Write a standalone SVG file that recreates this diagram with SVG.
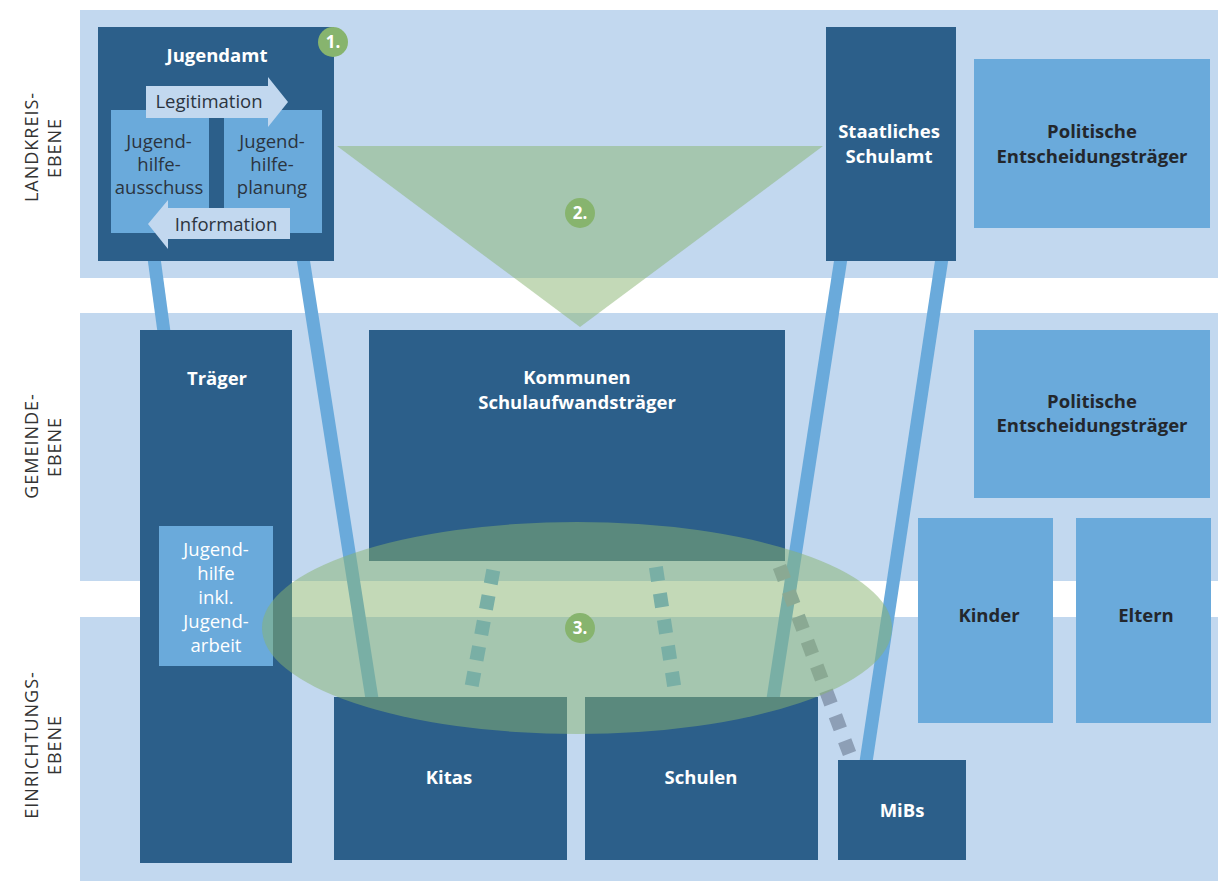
<svg xmlns="http://www.w3.org/2000/svg" width="1218" height="881" viewBox="0 0 1218 881">
<style>
.band{fill:#c2d8ef}
.dark{fill:#2c5f8a}
.mid{fill:#6aaadb}
.tw{font-family:"Open Sans","Liberation Sans",sans-serif;font-size:18.5px;font-weight:bold;fill:#ffffff;text-anchor:middle}
.td{font-family:"Open Sans","Liberation Sans",sans-serif;font-size:18.5px;font-weight:bold;fill:#23272d;text-anchor:middle}
.tr{font-family:"Open Sans","Liberation Sans",sans-serif;font-size:18.5px;fill:#2b3440;text-anchor:middle}
.trw{font-family:"Open Sans","Liberation Sans",sans-serif;font-size:18.5px;fill:#ffffff;text-anchor:middle}
.side{font-family:"Open Sans","Liberation Sans",sans-serif;font-size:18px;fill:#333333;text-anchor:middle;letter-spacing:1px}
.conn{stroke:#6aaadb;stroke-width:13;fill:none}
.dots{stroke:#6aaadb;stroke-width:14;fill:none}
.dotsg{stroke:#8d9fb6;stroke-width:14;fill:none}
.badge{fill:#87b46e}
.bt{font-family:"Open Sans","Liberation Sans",sans-serif;font-size:17px;font-weight:bold;fill:#ffffff;text-anchor:middle}
</style>

<g id="bands">
<rect class="band" x="80" y="10" width="1138" height="268"/>
<rect class="band" x="80" y="313" width="1138" height="268"/>
<rect class="band" x="80" y="617" width="1138" height="264"/>
</g>

<g id="level-labels">
<text class="side" transform="translate(38,147) rotate(-90)">LANDKREIS-</text>
<text class="side" transform="translate(61,148) rotate(-90)">EBENE</text>
<text class="side" transform="translate(38,446) rotate(-90)">GEMEINDE-</text>
<text class="side" transform="translate(61,447) rotate(-90)">EBENE</text>
<text class="side" transform="translate(38,745) rotate(-90)">EINRICHTUNGS-</text>
<text class="side" transform="translate(61,745) rotate(-90)">EBENE</text>
</g>

<g id="triangle">
<polygon points="337,146 823,146 580,327" fill="#87b46f" fill-opacity="0.5"/>
</g>

<g id="connectors">
<line class="conn" x1="154" y1="258" x2="164" y2="332"/>
<line class="conn" x1="303" y1="258" x2="372" y2="699"/>
<line class="conn" x1="841" y1="258" x2="773" y2="699"/>
<line class="conn" x1="942" y1="258" x2="866" y2="762"/>
</g>

<g id="jugendamt">
<rect class="dark" x="98" y="27" width="236" height="234"/>
<text class="tw" x="217" y="62">Jugendamt</text>
<rect class="mid" x="111" y="110" width="98" height="123"/>
<rect class="mid" x="224" y="110" width="98" height="123"/>
<text class="tr" x="159" y="148">Jugend-</text>
<text class="tr" x="159" y="171">hilfe-</text>
<text class="tr" x="159" y="194">ausschuss</text>
<text class="tr" x="272" y="148">Jugend-</text>
<text class="tr" x="272" y="171">hilfe-</text>
<text class="tr" x="272" y="194">planung</text>
<polygon points="146,86 268,86 268,77 288,102 268,127 268,118 146,118" fill="#c2d8ef"/>
<text class="tr" x="209" y="108">Legitimation</text>
<polygon points="290,208 168,208 168,200 148,224 168,249 168,239 290,239" fill="#c2d8ef"/>
<text class="tr" x="226" y="231">Information</text>
</g>

<g id="schulamt">
<rect class="dark" x="826" y="27" width="130" height="234"/>
<text class="tw" x="889" y="138">Staatliches</text>
<text class="tw" x="889" y="163">Schulamt</text>
</g>

<g id="politik-landkreis">
<rect class="mid" x="974" y="59" width="236" height="169"/>
<text class="td" x="1092" y="138">Politische</text>
<text class="td" x="1092" y="163">Entscheidungsträger</text>
</g>

<g id="traeger">
<rect class="dark" x="140" y="330" width="152" height="533"/>
<text class="tw" x="217" y="385">Träger</text>
<rect class="mid" x="159" y="526" width="114" height="140"/>
<text class="trw" x="216" y="556">Jugend-</text>
<text class="trw" x="216" y="580">hilfe</text>
<text class="trw" x="216" y="604">inkl.</text>
<text class="trw" x="216" y="628">Jugend-</text>
<text class="trw" x="216" y="652">arbeit</text>
</g>

<g id="kommunen">
<rect class="dark" x="369" y="330" width="416" height="231"/>
<text class="tw" x="577" y="384">Kommunen</text>
<text class="tw" x="577" y="409">Schulaufwandsträger</text>
</g>

<g id="politik-gemeinde">
<rect class="mid" x="974" y="330" width="236" height="168"/>
<text class="td" x="1092" y="408">Politische</text>
<text class="td" x="1092" y="432">Entscheidungsträger</text>
</g>

<g id="kinder">
<rect class="mid" x="918" y="518" width="135" height="205"/>
<text class="td" x="989" y="622">Kinder</text>
</g>

<g id="eltern">
<rect class="mid" x="1076" y="518" width="135" height="205"/>
<text class="td" x="1146" y="622">Eltern</text>
</g>

<g id="kitas">
<rect class="dark" x="334" y="697" width="233" height="163"/>
<text class="tw" x="449" y="784">Kitas</text>
</g>

<g id="schulen">
<rect class="dark" x="585" y="697" width="233" height="163"/>
<text class="tw" x="701" y="784">Schulen</text>
</g>

<g id="mibs">
<rect class="dark" x="838" y="760" width="128" height="100"/>
<text class="tw" x="902" y="817">MiBs</text>
</g>

<g id="dotted-connectors">
<line class="dots" x1="493.3" y1="570.1" x2="471.7" y2="685.9" stroke-dasharray="14 11.9"/>
<line class="dots" x1="655.9" y1="567.1" x2="674.1" y2="685.9" stroke-dasharray="14 12.55"/>
<line class="dotsg" x1="779.5" y1="566.5" x2="849.5" y2="753.5" stroke-dasharray="14 12.57"/>
</g>

<g id="ellipse">
<ellipse cx="577" cy="628" rx="315" ry="106" fill="#87b46f" fill-opacity="0.5"/>
</g>

<g id="badges">
<circle class="badge" cx="333" cy="42" r="15"/>
<text class="bt" x="333" y="48">1.</text>
<circle class="badge" cx="580" cy="213" r="15"/>
<text class="bt" x="580" y="219">2.</text>
<circle class="badge" cx="580" cy="628" r="15"/>
<text class="bt" x="580" y="634">3.</text>
</g>
</svg>
